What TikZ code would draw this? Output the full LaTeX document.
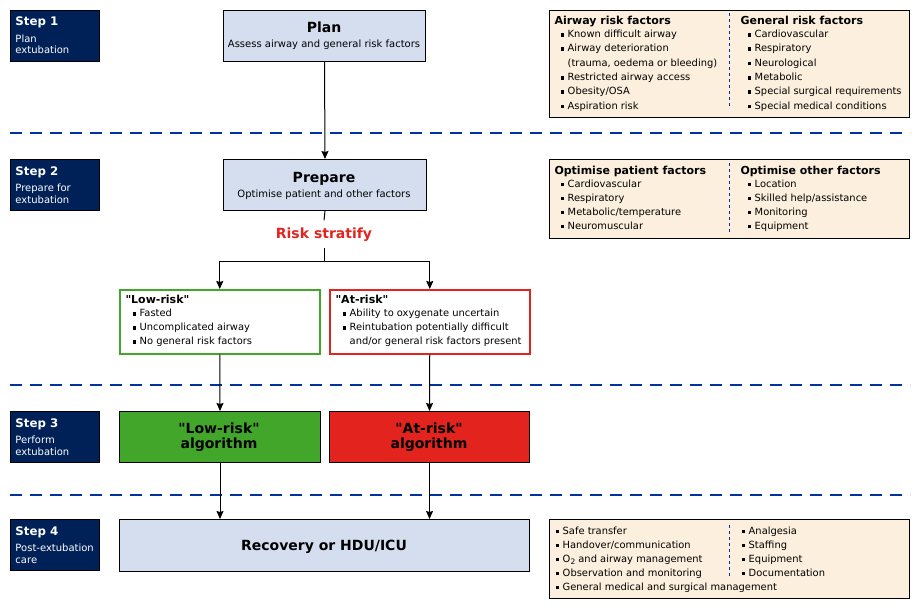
\documentclass[tikz,border=0pt]{standalone}
\usepackage{fontspec}
\setmainfont{DejaVu Sans}
\usetikzlibrary{arrows.meta,positioning}

\definecolor{stepnavy}{HTML}{002157}
\definecolor{paleblue}{HTML}{D5DEEF}
\definecolor{factbeige}{HTML}{FDEFDD}
\definecolor{riskred}{HTML}{E3231E}
\definecolor{riskgreen}{HTML}{41A62A}
\definecolor{sepblue}{HTML}{0033A0}

\newcommand\sqb{\rule[0.8pt]{3.6pt}{3.6pt}\hspace{3.6pt}}
\newcommand\sqsp{\hspace*{7.2pt}}
\newcommand\qd{\textquotedbl}

\tikzset{
every picture/.style={
line width=1pt
}}

\begin{document}
\begin{tikzpicture}[x=1pt,y=-1pt,
  stepbox/.style={draw, fill=stepnavy, inner sep=0pt, minimum width=89pt, minimum height=51pt, anchor=north west},
  steptitle/.style={text=white, font=\fontsize{11.8}{14}\selectfont\bfseries, anchor=base west, inner sep=0pt},
  stepsub/.style={text=white, font=\fontsize{10}{12}\selectfont, anchor=base west, inner sep=0pt},
  mainbox/.style={draw, fill=paleblue, inner sep=0pt, anchor=north west},
  head/.style={font=\fontsize{14}{16}\selectfont\bfseries, inner sep=0pt, anchor=base},
  sub/.style={font=\fontsize{10}{12}\selectfont, inner sep=0pt, anchor=base},
  groupbox/.style={fill=white, line width=1.5pt, minimum width=200pt, minimum height=64pt, inner sep=0pt, anchor=north west},
  factbox/.style={draw, fill=factbeige, inner sep=0pt, minimum width=360pt, anchor=north west},
  fhead/.style={font=\fontsize{11}{12}\selectfont\bfseries, inner sep=0pt, anchor=base west},
  item/.style={font=\fontsize{9.9}{12}\selectfont, inner sep=0pt, anchor=base west},
  sep/.style={draw=sepblue, line width=2.5pt, dash pattern=on 12pt off 8pt},
  divider/.style={draw=sepblue, line width=0.7pt, dash pattern=on 3pt off 3pt},
  arr/.style={-{Stealth[length=8pt,width=7pt,inset=1pt]}}
]
\useasboundingbox (0,0) rectangle (920,610);

% stage separators
\foreach \y in {133,385,495}
  \draw[sep] (10,\y) -- (910,\y);

% steps
\foreach \y/\a/\b [count=\i] in {10/Plan/extubation, 159/Prepare for/extubation, 411/Perform/extubation, 519/Post-extubation/care}{
  \node[stepbox] (step\i) at (10,\y) {};
  \node[steptitle] (steptitle\i) at (15,\y+16) {Step \i};
  \node[stepsub] (stepsuba\i) at (15,\y+32) {\a};
  \node[stepsub] (stepsubb\i) at (15,\y+44) {\b};
}

% plan and prepare
\node[mainbox, minimum width=202pt, minimum height=51pt] (plan) at (223,10) {};
\node[head] (plantitle) at (324,33) {Plan};
\node[sub] (plansub) at (324,48) {Assess airway and general risk factors};

\node[mainbox, minimum width=203pt, minimum height=51pt] (prepare) at (223,159) {};
\node[head] (preparetitle) at (324,182) {Prepare};
\node[sub] (preparesub) at (324,197) {Optimise patient and other factors};

\node[font=\fontsize{14}{16}\selectfont\bfseries, text=riskred, inner xsep=0pt, inner ysep=6.5pt, anchor=base] (risk) at (324,238) {Risk stratify};

% risk groups
\node[groupbox, draw=riskgreen] (lowbox) at (119,289) {};
\node[fhead] (lowhead) at (125,303) {\qd Low-risk\qd};
\foreach \t [count=\k] in {Fasted, Uncomplicated airway, No general risk factors}
  \node[item] (low\k) at (132,303+13.8*\k) {\sqb\t};

\node[groupbox, draw=riskred] (atbox) at (329,289) {};
\node[fhead] (athead) at (335,303) {\qd At-risk\qd};
\node[item] (at1) at (342,316.8) {\sqb Ability to oxygenate uncertain};
\node[item] (at2) at (342,330.6) {\sqb Reintubation potentially difficult};
\node[item] (at3) at (342,344.4) {\sqsp and/or general risk factors present};

% algorithms
\node[draw, fill=riskgreen, minimum width=201pt, minimum height=51pt, inner sep=0pt, anchor=north west] (lowalg) at (119,411) {};
\node[head] (lowalga) at (219,433) {\qd Low-risk\qd};
\node[head] (lowalgb) at (219,448) {algorithm};
\node[draw, fill=riskred, minimum width=200pt, minimum height=51pt, inner sep=0pt, anchor=north west] (atalg) at (329,411) {};
\node[head] (atalga) at (429,433) {\qd At-risk\qd};
\node[head] (atalgb) at (429,448) {algorithm};

\node[mainbox, minimum width=410pt, minimum height=52pt] (recovery) at (119,519) {};
\node[head] (recoverytext) at (324,550) {Recovery or HDU/ICU};

% connectors
\draw[arr] (plan.south) -- (prepare.north);
\draw (prepare.south) -- (risk.north);
\coordinate (split) at (324,261);
\draw (risk.south) -- (split);
\draw[arr] (split) -| (lowbox.north);
\draw[arr] (split) -| (atbox.north);
\draw[arr] (lowbox.south) -- (lowalg.north);
\draw[arr] (atbox.south) -- (atalg.north);
\draw[arr] (lowalg.south) -- (lowalg.south |- recovery.north);
\draw[arr] (atalg.south) -- (atalg.south |- recovery.north);

% factor boxes
\node[factbox, minimum height=107pt] (riskfacts) at (549,10) {};
\draw[divider] (729,13) -- (729,108);
\node[fhead] (airwayhead) at (554,25) {Airway risk factors};
\foreach \t [count=\k] in {\sqb Known difficult airway, \sqb Airway deterioration, {\sqsp(trauma, oedema or bleeding)}, \sqb Restricted airway access, \sqb Obesity/OSA, \sqb Aspiration risk}
  \node[item] (airway\k) at (560,23+14.35*\k) {\t};
\node[fhead] (generalhead) at (740,25) {General risk factors};
\foreach \t [count=\k] in {Cardiovascular, Respiratory, Neurological, Metabolic, Special surgical requirements, Special medical conditions}
  \node[item] (general\k) at (747,23+14.35*\k) {\sqb\t};

\node[factbox, minimum height=79pt] (optfacts) at (549,159) {};
\draw[divider] (729,163) -- (729,232);
\node[fhead] (patienthead) at (554,174) {Optimise patient factors};
\foreach \t [count=\k] in {Cardiovascular, Respiratory, Metabolic/temperature, Neuromuscular}
  \node[item] (patient\k) at (560,173+14*\k) {\sqb\t};
\node[fhead] (otherhead) at (740,174) {Optimise other factors};
\foreach \t [count=\k] in {Location, Skilled help/assistance, Monitoring, Equipment}
  \node[item] (other\k) at (747,173+14*\k) {\sqb\t};

\node[factbox, minimum height=79pt] (carefacts) at (549,519) {};
\draw[divider] (729,525) -- (729,577);
\foreach \t [count=\k] in {Safe transfer, Handover/communication, O\raisebox{-2.2pt}{\fontsize{7.5}{8}\selectfont 2} and airway management, Observation and monitoring, General medical and surgical management}
  \node[item] (care\k) at (555,520+14*\k) {\sqb\t};
\foreach \t [count=\k] in {Analgesia, Staffing, Equipment, Documentation}
  \node[item] (carex\k) at (741,520+14*\k) {\sqb\t};

\end{tikzpicture}
\end{document}
